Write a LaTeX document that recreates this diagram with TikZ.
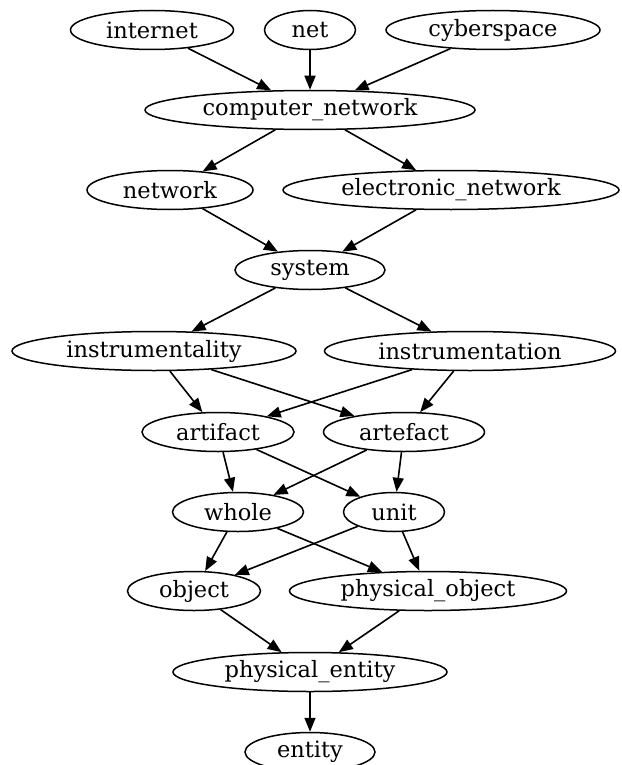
\documentclass[tikz,border=0pt]{standalone}
\usepackage{fontspec}
\setmainfont{DejaVu Serif}
\usetikzlibrary{shapes.geometric,arrows.meta}
\tikzset{
  nd/.style={draw, ellipse, line width=1.5pt, inner sep=0pt, minimum height=39pt,
    font=\fontsize{22.5}{26}\selectfont},
  ed/.style={line width=1.6pt, -{Triangle[length=14pt,width=11pt]}},
}
\begin{document}
\begin{tikzpicture}[x=1pt,y=-1pt]
\useasboundingbox (0,0) rectangle (621,765);
\node[nd, minimum width=163pt] (internet) at (152,30) {internet};
\node[nd, minimum width=91pt] (net) at (310,30) {net};
\node[nd, minimum width=214pt] (cyberspace) at (493,30) {cyberspace};
\node[nd, minimum width=330pt] (cn) at (310,110) {computer\_network};
\node[nd, minimum width=166pt] (network) at (170,190) {network};
\node[nd, minimum width=336pt] (en) at (451,190) {electronic\_network};
\node[nd, minimum width=150pt] (system) at (310,270) {system};
\node[nd, minimum width=284pt] (instl) at (154,351) {instrumentality};
\node[nd, minimum width=291pt] (instn) at (470,351) {instrumentation};
\node[nd, minimum width=152pt] (artifact) at (218,432) {artifact};
\node[nd, minimum width=161pt] (artefact) at (404,432) {artefact};
\node[nd, minimum width=131pt] (whole) at (238,512) {whole};
\node[nd, minimum width=101pt] (unit) at (394,512) {unit};
\node[nd, minimum width=133pt] (object) at (194,591) {object};
\node[nd, minimum width=277pt] (pobj) at (428,591) {physical\_object};
\node[nd, minimum width=274pt] (pent) at (310,672) {physical\_entity};
\node[nd, minimum width=130pt] (entity) at (310,752) {entity};
\draw[ed] (internet) -- (cn);
\draw[ed] (net) -- (cn);
\draw[ed] (cyberspace) -- (cn);
\draw[ed] (cn) -- (network);
\draw[ed] (cn) -- (en);
\draw[ed] (network) -- (system);
\draw[ed] (en) -- (system);
\draw[ed] (system) -- (instl);
\draw[ed] (system) -- (instn);
\draw[ed] (instl) -- (artifact);
\draw[ed] (instl) -- (artefact);
\draw[ed] (instn) -- (artifact);
\draw[ed] (instn) -- (artefact);
\draw[ed] (artifact) -- (whole);
\draw[ed] (artifact) -- (unit);
\draw[ed] (artefact) -- (whole);
\draw[ed] (artefact) -- (unit);
\draw[ed] (whole) -- (object);
\draw[ed] (whole) -- (pobj);
\draw[ed] (unit) -- (object);
\draw[ed] (unit) -- (pobj);
\draw[ed] (object) -- (pent);
\draw[ed] (pobj) -- (pent);
\draw[ed] (pent) -- (entity);
\end{tikzpicture}
\end{document}
